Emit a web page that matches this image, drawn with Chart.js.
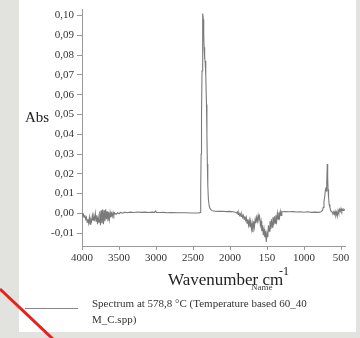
<!DOCTYPE html>
<html>
<head>
<meta charset="utf-8">
<script src="https://cdn.jsdelivr.net/npm/chart.js@4/dist/chart.umd.min.js"></script>
<style>
    html, body { margin: 0; padding: 0; background: #e2e2de; }
    #box { position: relative; width: 360px; height: 338px; }
</style>
</head>
<body>
<div id="box"><canvas id="spectrum" width="360" height="338"></canvas></div>
<script>
// wavenumber (cm-1) and absorbance
let wavenumbers = [
    4000, 3990, 3980, 3970, 3960, 3950, 3940, 3930, 3920, 3910, 3900, 3890, 3880, 3870, 3860,
    3850, 3840, 3830, 3820, 3810, 3800, 3790, 3780, 3770, 3760, 3750, 3740, 3730, 3720, 3710,
    3700, 3690, 3680, 3670, 3660, 3650, 3640, 3630, 3620, 3610, 3600, 3590, 3580, 3570, 3560,
    3540, 3520, 3500, 3480, 3450, 3420, 3390, 3350, 3300, 3250, 3200, 3150, 3100, 3050, 3020,
    3005, 2995, 2950, 2900, 2850, 2800, 2700, 2600, 2500, 2420, 2400, 2396, 2390, 2385, 2378,
    2372, 2366, 2360, 2355, 2350, 2345, 2340, 2335, 2330, 2325, 2318, 2312, 2306, 2300, 2292,
    2282, 2270, 2255, 2240, 2220, 2200, 2150, 2100, 2050, 2000, 1960, 1930, 1910, 1900, 1890,
    1880, 1870, 1860, 1850, 1840, 1830, 1820, 1810, 1800, 1790, 1780, 1770, 1760, 1750, 1740,
    1730, 1720, 1710, 1700, 1690, 1680, 1670, 1660, 1650, 1640, 1630, 1620, 1610, 1600, 1590,
    1580, 1570, 1560, 1550, 1540, 1530, 1520, 1510, 1500, 1490, 1480, 1470, 1460, 1450, 1440,
    1430, 1420, 1410, 1400, 1390, 1380, 1370, 1360, 1350, 1340, 1330, 1320, 1310, 1300, 1290,
    1250, 1200, 1150, 1100, 1050, 1000, 950, 900, 850, 800, 770, 750, 740, 730, 720,
    710, 700, 695, 690, 685, 680, 675, 668, 660, 650, 640, 630, 620, 610, 600,
    590, 580, 570, 560, 550, 540, 530, 520, 510, 500, 490, 480, 470, 460, 450
];
let absorbance = [
    0.000, -0.001, -0.0005, -0.002, -0.001, -0.003, -0.002, -0.0045, -0.003, -0.005, -0.002, -0.0055, -0.003, -0.004, -0.001,
    -0.0035, -0.0015, -0.003, 0.000, -0.004, -0.001, -0.0055, -0.002, -0.0045, 0.001, -0.006, 0.0015, -0.005, 0.002, -0.0055,
    0.0015, -0.004, 0.002, -0.003, 0.001, -0.004, 0.0005, -0.003, 0.0005, -0.002, 0.000, -0.0015, 0.0005, -0.001, 0.0003,
    -0.0005, 0.0003, -0.0002, 0.0005, 0.0001, 0.0006, 0.0003, 0.0006, 0.0004, 0.0007, 0.0005, 0.0006, 0.0004, 0.0006, 0.0005,
    0.0012, 0.0005, 0.0004, 0.0005, 0.0003, 0.0004, 0.0003, 0.0003, 0.0002, 0.0002, 0.0005, 0.012, 0.030, 0.050, 0.072,
    0.092, 0.101, 0.098, 0.090, 0.084, 0.078, 0.079, 0.076, 0.077, 0.070, 0.055, 0.040, 0.025, 0.014, 0.007,
    0.004, 0.0025, 0.0018, 0.0013, 0.0012, 0.0011, 0.0010, 0.0011, 0.0009, 0.0010, 0.0008, 0.0006, 0.0002, 0.0008, -0.0005,
    0.0003, -0.001, -0.0002, -0.0015, -0.0005, -0.002, -0.001, -0.003, -0.0015, -0.0035, -0.002, -0.005, -0.003, -0.006, -0.0035,
    -0.007, -0.004, -0.008, -0.005, -0.0095, -0.004, -0.007, -0.003, -0.005, -0.002, -0.004, -0.001, -0.003, -0.0015, -0.006,
    -0.004, -0.009, -0.006, -0.011, -0.008, -0.012, -0.009, -0.0145, -0.010, -0.012, -0.006, -0.009, -0.004, -0.008, -0.003,
    -0.007, -0.002, -0.006, -0.0015, -0.005, -0.001, -0.004, 0.000, -0.003, 0.0005, -0.002, 0.001, -0.001, 0.001, 0.0008,
    0.0009, 0.0008, 0.0009, 0.0007, 0.0008, 0.0006, 0.0008, 0.0005, 0.0006, 0.0005, 0.0008, 0.0015, 0.003, 0.006, 0.0085,
    0.012, 0.013, 0.011, 0.016, 0.025, 0.018, 0.012, 0.008, 0.0045, 0.003, 0.0015, 0.001, 0.0005, 0.000, 0.0008,
    -0.0005, 0.001, -0.001, 0.0005, -0.0015, 0.0015, 0.000, 0.002, 0.001, 0.0025, 0.001, 0.002, 0.0015, 0.002, 0.0015
];
let yTicks = [-0.01, 0.00, 0.01, 0.02, 0.03, 0.04, 0.05, 0.06, 0.07, 0.08, 0.09, 0.10];
let xTicks = [4000, 3500, 3000, 2500, 2000, 1500, 1000, 500];
let xTickLabels = ['4000', '3500', '3000', '2500', '2000', '150', '1000', '500'];
let legendText = ['Spectrum at 578,8 °C (Temperature based 60_40', 'M_C.spp)'];

let points = wavenumbers.map(function (w, i) {
    return { x: w, y: absorbance[i] };
});

let serif = '"Liberation Serif", "DejaVu Serif", serif';

// grey page, white panel and the red stroke across the corner
let frame = {
    id: 'frame',
    beforeDraw: function (chart) {
        let c = chart.ctx;
        c.save();
        c.fillStyle = '#e2e2de';
        c.fillRect(0, 0, 360, 338);
        c.fillStyle = '#ffffff';
        c.fillRect(19, 0, 337, 332);
        c.restore();
    },
    afterDraw: function (chart) {
        let c = chart.ctx;
        c.save();
        c.fillStyle = '#222';
        c.textBaseline = 'alphabetic';
        c.textAlign = 'left';
        c.font = '15px ' + serif;
        c.fillText('Abs', 25, 122);
        c.font = '17px ' + serif;
        c.fillText('Wavenumber cm', 168, 285);
        c.font = '12px ' + serif;
        c.fillText('-1', 279, 275);
        c.font = '9px ' + serif;
        c.fillStyle = '#444';
        c.fillText('Name', 251, 290);

        // legend
        c.strokeStyle = '#888';
        c.lineWidth = 1;
        c.beginPath();
        c.moveTo(25, 308.5);
        c.lineTo(78, 308.5);
        c.stroke();
        c.fillStyle = '#333';
        c.font = '11px ' + serif;
        c.fillText(legendText[0], 92, 307);
        c.fillText(legendText[1], 92, 323);

        c.strokeStyle = '#e3241c';
        c.lineWidth = 3;
        c.beginPath();
        c.moveTo(0, 289);
        c.lineTo(54, 340);
        c.stroke();
        c.restore();
    }
};

let ctx = document.getElementById('spectrum').getContext('2d');

let spectrumChart = new Chart(ctx, {
    type: 'line',
    data: {
        datasets: [{
            label: legendText.join(' '),
            data: points,
            borderColor: '#7a7a7a',
            borderWidth: 1.1,
            pointRadius: 0,
            tension: 0,
            fill: false
        }]
    },
    options: {
        responsive: false,
        animation: false,
        layout: {
            padding: { left: 20, right: 15, top: 1, bottom: 72 }
        },
        plugins: {
            legend: { display: false },
            tooltip: { enabled: false }
        },
        scales: {
            x: {
                type: 'linear',
                reverse: true,
                min: 446,
                max: 4000,
                afterBuildTicks: function (scale) {
                    scale.ticks = xTicks.map(function (v) { return { value: v }; });
                },
                afterFit: function (scale) {
                    scale.height = 20;
                },
                border: { display: true, color: '#999', width: 1 },
                grid: { display: true, drawOnChartArea: false, drawTicks: true, tickLength: 4, color: '#999' },
                ticks: {
                    color: '#333',
                    padding: 2,
                    maxRotation: 0,
                    autoSkip: false,
                    font: { family: serif, size: 11 },
                    callback: function (value) {
                        return xTickLabels[xTicks.indexOf(value)];
                    }
                }
            },
            y: {
                min: -0.0165,
                max: 0.103,
                afterBuildTicks: function (scale) {
                    scale.ticks = yTicks.map(function (v) { return { value: v }; });
                },
                afterFit: function (scale) {
                    scale.width = 62;
                },
                border: { display: true, color: '#999', width: 1 },
                grid: { display: true, drawOnChartArea: false, drawTicks: true, tickLength: 5, color: '#999' },
                ticks: {
                    color: '#333',
                    padding: 3,
                    autoSkip: false,
                    font: { family: serif, size: 11 },
                    callback: function (value) {
                        return value.toFixed(2).replace('.', ',');
                    }
                }
            }
        }
    },
    plugins: [frame]
});
</script>
</body>
</html>
